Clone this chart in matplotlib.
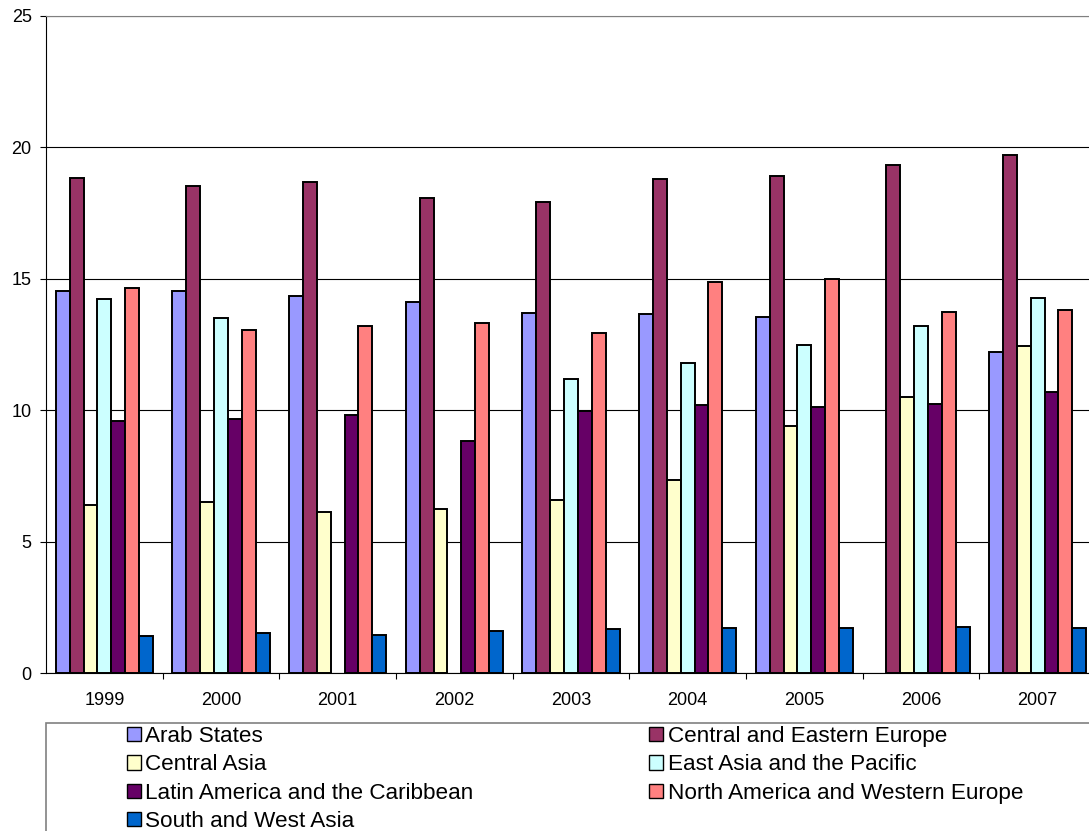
import numpy as np
import matplotlib.pyplot as plt
from matplotlib.patches import Patch, Rectangle

plt.rcParams['font.family'] = ['Liberation Sans', 'DejaVu Sans']

years = ['1999', '2000', '2001', '2002', '2003', '2004', '2005', '2006', '2007']
regions = ['Arab States', 'Central and Eastern Europe', 'Central Asia',
           'East Asia and the Pacific', 'Latin America and the Caribbean',
           'North America and Western Europe', 'South and West Asia']

arab_states = [14.55, 14.55, 14.33, 14.1, 13.69, 13.66, 13.56, np.nan, 12.21]
central_eastern_europe = [18.85, 18.53, 18.68, 18.06, 17.91, 18.78, 18.9, 19.33, 19.71]
central_asia = [6.39, 6.5, 6.13, 6.24, 6.58, 7.34, 9.4, 10.5, 12.44]
east_asia_pacific = [14.23, 13.5, np.nan, np.nan, 11.19, 11.81, 12.48, 13.2, 14.27]
latin_america = [9.59, 9.66, 9.82, 8.84, 9.96, 10.19, 10.12, 10.24, 10.69]
north_america_we = [14.65, 13.05, 13.2, 13.31, 12.93, 14.89, 14.99, 13.74, 13.81]
south_west_asia = [1.41, 1.52, 1.45, 1.6, 1.66, 1.71, 1.71, 1.75, 1.71]

series = [arab_states, central_eastern_europe, central_asia, east_asia_pacific,
          latin_america, north_america_we, south_west_asia]
colors = ['#9999FF', '#993366', '#FFFFCC', '#CCFFFF', '#660066', '#FF8080', '#0066CC']

fig = plt.figure(figsize=(10.89, 8.31), dpi=100)
W, H = 1089, 831
# plot area runs past the right edge, like the cropped original
ax = fig.add_axes([46 / W, 158 / H, 1050 / W, 657 / H])

x = np.arange(len(years))
w = 0.119
for j, (vals, c) in enumerate(zip(series, colors)):
    ax.bar(x + (j - 3) * w, vals, width=w, color=c, edgecolor='black',
           linewidth=1.4, label=regions[j], zorder=3)

ax.set_xlim(-0.5, len(years) - 0.5)
ax.set_ylim(0, 25)
ax.set_yticks([0, 5, 10, 15, 20, 25])
ax.yaxis.grid(True, color='black', linewidth=0.8, zorder=0)
ax.set_xticks(x)
ax.set_xticklabels(years)
ax.set_xticks(np.arange(0.5, len(years) - 0.5), minor=True)
ax.tick_params(axis='x', which='major', length=0, pad=14, labelsize=13)
ax.tick_params(axis='x', which='minor', length=4.3, width=0.8, direction='out')
ax.tick_params(axis='y', length=4.3, width=0.8, direction='out', labelsize=13, pad=6)
ax.spines['left'].set_color('black')
ax.spines['bottom'].set_color('black')
ax.spines['top'].set_color('#808080')
ax.spines['right'].set_color('#808080')

# legend frame, also cut off at the right and bottom
fig.add_artist(Rectangle((46 / W, -10 / H), 1060 / W, (831 - 723 + 10) / H,
                         transform=fig.transFigure, facecolor='white',
                         edgecolor='#808080', linewidth=1.2))
# legend reads row by row: matplotlib fills columns first, so reorder
order = [0, 2, 4, 6, 1, 3, 5]
handles = [Patch(facecolor=colors[i], edgecolor='black', linewidth=1.0) for i in order]
labels = [regions[i] for i in order]
fig.legend(handles, labels, ncol=2, loc='upper left',
           bbox_to_anchor=(127 / W, 1 - 726 / H), frameon=False,
           fontsize=16.2, handlelength=0.6, handleheight=0.6,
           handletextpad=0.22, labelspacing=0.33, columnspacing=7.8,
           borderpad=0, borderaxespad=0)

fig.savefig('out.png', dpi=100)
